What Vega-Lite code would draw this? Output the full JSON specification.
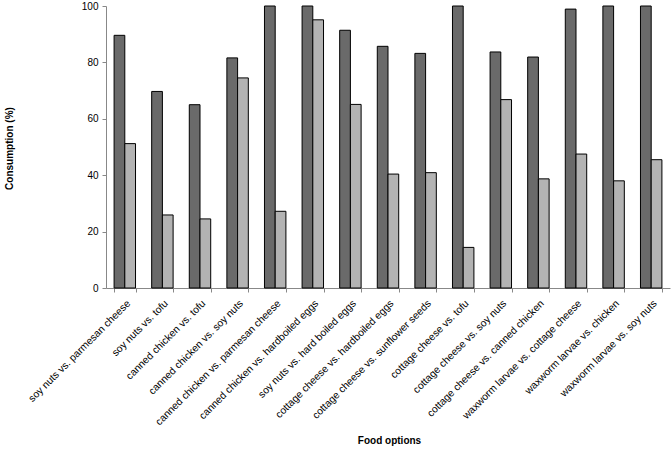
{
  "$schema": "https://vega.github.io/schema/vega-lite/v6.json",
  "autosize": {"type": "none"},
  "padding": {"left": 106, "top": 6, "right": 2, "bottom": 161},
  "width": 564,
  "height": 282,
  "background": "white",
  "config": {
    "view": {"stroke": null},
    "font": "Liberation Sans",
    "axis": {"labelFont": "Liberation Sans", "titleFont": "Liberation Sans", "labelColor": "#000", "titleColor": "#000"}
  },
  "data": {
    "values": [
      {"food": "soy nuts vs. parmesan cheese", "series": "A", "value": 89.6},
      {"food": "soy nuts vs. parmesan cheese", "series": "B", "value": 51.2},
      {"food": "soy nuts vs. tofu", "series": "A", "value": 69.7},
      {"food": "soy nuts vs. tofu", "series": "B", "value": 25.9},
      {"food": "canned chicken vs. tofu", "series": "A", "value": 65.0},
      {"food": "canned chicken vs. tofu", "series": "B", "value": 24.5},
      {"food": "canned chicken vs. soy nuts", "series": "A", "value": 81.6},
      {"food": "canned chicken vs. soy nuts", "series": "B", "value": 74.5},
      {"food": "canned chicken vs. parmesan cheese", "series": "A", "value": 100},
      {"food": "canned chicken vs. parmesan cheese", "series": "B", "value": 27.2},
      {"food": "canned chicken vs. hardboiled eggs", "series": "A", "value": 100},
      {"food": "canned chicken vs. hardboiled eggs", "series": "B", "value": 95.1},
      {"food": "soy nuts vs. hard boiled eggs", "series": "A", "value": 91.4},
      {"food": "soy nuts vs. hard boiled eggs", "series": "B", "value": 65.1},
      {"food": "cottage cheese vs. hardboiled eggs", "series": "A", "value": 85.7},
      {"food": "cottage cheese vs. hardboiled eggs", "series": "B", "value": 40.4},
      {"food": "cottage cheese vs. sunflower seeds", "series": "A", "value": 83.2},
      {"food": "cottage cheese vs. sunflower seeds", "series": "B", "value": 40.9},
      {"food": "cottage cheese vs. tofu", "series": "A", "value": 100},
      {"food": "cottage cheese vs. tofu", "series": "B", "value": 14.4},
      {"food": "cottage cheese vs. soy nuts", "series": "A", "value": 83.7},
      {"food": "cottage cheese vs. soy nuts", "series": "B", "value": 66.8},
      {"food": "cottage cheese vs. canned chicken", "series": "A", "value": 81.9},
      {"food": "cottage cheese vs. canned chicken", "series": "B", "value": 38.7},
      {"food": "waxworm larvae vs. cottage cheese", "series": "A", "value": 98.9},
      {"food": "waxworm larvae vs. cottage cheese", "series": "B", "value": 47.5},
      {"food": "waxworm larvae vs. chicken", "series": "A", "value": 100},
      {"food": "waxworm larvae vs. chicken", "series": "B", "value": 38.0},
      {"food": "waxworm larvae vs. soy nuts", "series": "A", "value": 100},
      {"food": "waxworm larvae vs. soy nuts", "series": "B", "value": 45.5}
    ]
  },
  "mark": {"type": "bar", "stroke": "#000", "strokeWidth": 1},
  "encoding": {
    "x": {
      "field": "food",
      "type": "nominal",
      "sort": null,
      "scale": {"paddingInner": 0.43, "paddingOuter": 0.215},
      "axis": {
        "title": "Food options",
        "titleFontSize": 10,
        "titleFontWeight": "bold",
        "titleX": 283,
        "titleY": 152,
        "titleBaseline": "middle",
        "labelAngle": -45,
        "labelFontSize": 10.3,
        "labelPadding": 6,
        "labelLimit": 300,
        "tickBand": "extent",
        "tickColor": "#888",
        "tickSize": 4,
        "domainColor": "#888",
        "grid": false
      }
    },
    "xOffset": {"field": "series", "type": "nominal"},
    "y": {
      "field": "value",
      "type": "quantitative",
      "scale": {"domain": [0, 100], "nice": false},
      "axis": {
        "title": "Consumption (%)",
        "titleFontSize": 10,
        "titleFontWeight": "bold",
        "titleX": -97,
        "titleY": 142,
        "titleAngle": -90,
        "titleBaseline": "middle",
        "titleAlign": "center",
        "values": [0, 20, 40, 60, 80, 100],
        "labelFontSize": 10,
        "labelPadding": 4,
        "tickColor": "#888",
        "tickSize": 4,
        "domainColor": "#888",
        "grid": false
      }
    },
    "color": {
      "field": "series",
      "type": "nominal",
      "scale": {"domain": ["A", "B"], "range": ["#6a6a6a", "#b3b3b3"]},
      "legend": null
    }
  }
}
